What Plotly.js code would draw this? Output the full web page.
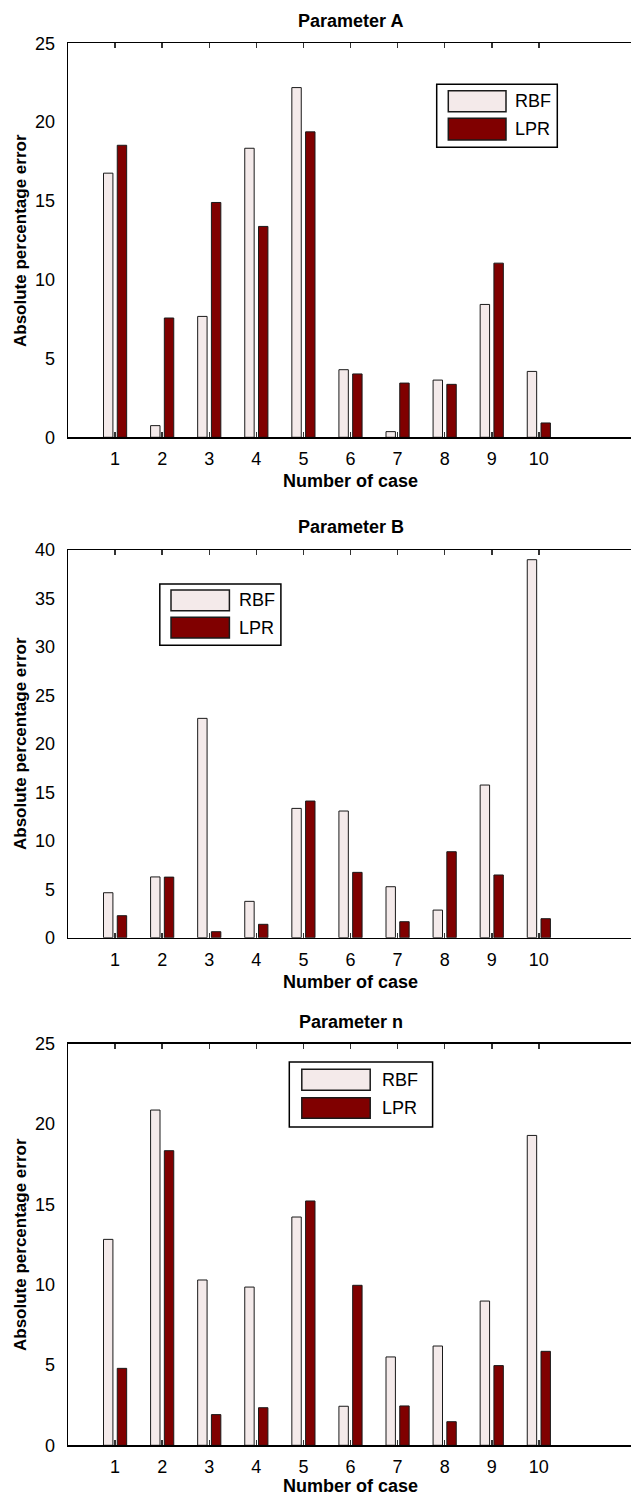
<!DOCTYPE html>
<html>
<head>
<meta charset="utf-8">
<script src="https://cdn.plot.ly/plotly-3.0.1.min.js"></script>
<style>
html, body { margin: 0; padding: 0; background: #ffffff; overflow: hidden; }
#chart { width: 640px; height: 1496px; }
</style>
</head>
<body>
<div id="chart"></div>
<script>
// ---- data ----
const cases = [1, 2, 3, 4, 5, 6, 7, 8, 9, 10];
const caseLabels = ["1", "2", "3", "4", "5", "6", "7", "8", "9", "10"];
const seriesNames = ["RBF", "LPR"];
const panelTitles = ["Parameter A", "Parameter B", "Parameter n"];

const rbfA = [16.76, 0.74, 7.67, 18.34, 22.19, 4.29, 0.36, 3.63, 8.43, 4.18];
const lprA = [18.53, 7.57, 14.90, 13.38, 19.38, 4.02, 3.44, 3.36, 11.05, 0.91];

const rbfB = [4.64, 6.27, 22.63, 3.75, 13.34, 13.07, 5.26, 2.85, 15.75, 39.0];
const lprB = [2.27, 6.25, 0.62, 1.38, 14.10, 6.74, 1.65, 8.87, 6.47, 1.96];

const rbfN = [12.82, 20.87, 10.29, 9.85, 14.21, 2.43, 5.50, 6.18, 8.98, 19.29];
const lprN = [4.79, 18.34, 1.91, 2.34, 15.21, 9.96, 2.45, 1.47, 4.96, 5.85];

const yMax = [25, 40, 25];
const yTicks = [[0, 5, 10, 15, 20, 25], [0, 5, 10, 15, 20, 25, 30, 35, 40], [0, 5, 10, 15, 20, 25]];

// ---- layout geometry (pixels) ----
const W = 640, H = 1496;
const px = v => v / W;
const py = v => 1 - v / H;

const plotLeft = 68, plotRight = 633;
const panels = [
  {top: 43.3, bottom: 437.3, title: 20.7, xtitle: 481, ytitle: 241,
   leg: {x0: 436.7, x1: 557.3, y0: 84.3, y1: 147.3, sx0: 448.3, sx1: 506, r0: 90.7, r1: 111.7, l0: 118.3, l1: 140, tx: 513}},
  {top: 550, bottom: 937.7, title: 526.7, xtitle: 981.7, ytitle: 744,
   leg: {x0: 159.8, x1: 280.9, y0: 584, y1: 645.3, sx0: 171, sx1: 229.4, r0: 590, r1: 610.7, l0: 617.3, l1: 638, tx: 236.6}},
  {top: 1043.7, bottom: 1445.3, title: 1021.7, xtitle: 1486, ytitle: 1245,
   leg: {x0: 289.3, x1: 432.6, y0: 1062, y1: 1127, sx0: 301.8, sx1: 370.2, r0: 1069.3, r1: 1090.3, l0: 1097.7, l1: 1118.3, tx: 380.3}}
];

const rbfColor = "#f4eaea";
const lprColor = "#800000";
const edge = "#1a1a1a";
const fontFam = "Liberation Sans, Arial, Helvetica, sans-serif";

const dataSets = [[rbfA, lprA], [rbfB, lprB], [rbfN, lprN]];

const traces = [];
const layout = {
  width: W, height: H,
  margin: {l: 0, r: 0, t: 0, b: 0},
  paper_bgcolor: "#ffffff",
  plot_bgcolor: "#ffffff",
  showlegend: false,
  barmode: "group",
  bargap: 0.416,
  bargroupgap: 0.315,
  font: {family: fontFam, color: "#000000", size: 18},
  shapes: [],
  annotations: []
};

panels.forEach((p, i) => {
  const n = i + 1;
  const xs = n === 1 ? "x" : "x" + n;
  const ys = n === 1 ? "y" : "y" + n;
  const [rbf, lpr] = dataSets[i];
  traces.push({
    type: "bar", x: cases, y: rbf, name: seriesNames[0], xaxis: xs, yaxis: ys,
    marker: {color: rbfColor, line: {color: edge, width: 1}}, hoverinfo: "x+y+name"
  });
  traces.push({
    type: "bar", x: cases, y: lpr, name: seriesNames[1], xaxis: xs, yaxis: ys,
    marker: {color: lprColor, line: {color: edge, width: 1}}, hoverinfo: "x+y+name"
  });

  layout["xaxis" + (n === 1 ? "" : n)] = {
    domain: [px(plotLeft), px(plotRight)],
    anchor: ys,
    range: [0, 12],
    tickmode: "array", tickvals: cases, ticktext: caseLabels,
    ticks: "inside", ticklen: 5, tickwidth: 1.5, tickcolor: "#333333",
    showline: true, linecolor: "#000000", linewidth: 1.3, mirror: "ticks",
    showgrid: false, zeroline: false,
    ticklabelstandoff: 5,
    tickfont: {family: fontFam, size: 18, color: "#000000"}
  };
  layout["yaxis" + (n === 1 ? "" : n)] = {
    domain: [py(p.bottom), py(p.top)],
    anchor: xs,
    range: [0, yMax[i]],
    tickmode: "array", tickvals: yTicks[i], ticktext: yTicks[i].map(String),
    ticks: "", showline: true, linecolor: "#000000", linewidth: 1.3, mirror: true,
    showgrid: false, zeroline: false,
    ticklabelstandoff: 8,
    tickfont: {family: fontFam, size: 18, color: "#000000"}
  };
  // right-side inward ticks only
  layout["yaxis" + (n + 3)] = {
    overlaying: ys, anchor: xs, side: "right",
    range: [0, yMax[i]],
    tickmode: "array", tickvals: yTicks[i],
    ticks: "inside", ticklen: 6, tickwidth: 1.3, tickcolor: "#333333",
    showticklabels: false, showline: false, showgrid: false, zeroline: false
  };

  // titles
  layout.annotations.push({
    xref: "paper", yref: "paper", x: px((plotLeft + plotRight) / 2), y: py(p.title),
    xanchor: "center", yanchor: "middle", showarrow: false,
    text: "<b>" + panelTitles[i] + "</b>", font: {family: fontFam, size: 18, color: "#000"}
  });
  layout.annotations.push({
    xref: "paper", yref: "paper", x: px((plotLeft + plotRight) / 2), y: py(p.xtitle),
    xanchor: "center", yanchor: "middle", showarrow: false,
    text: "<b>Number of case</b>", font: {family: fontFam, size: 18, color: "#000"}
  });
  layout.annotations.push({
    xref: "paper", yref: "paper", x: px(20), y: py(p.ytitle),
    xanchor: "center", yanchor: "middle", showarrow: false, textangle: -90,
    text: "<b>Absolute percentage error</b>", font: {family: fontFam, size: 17, color: "#000"}
  });

  // legend box
  const L = p.leg;
  layout.shapes.push({type: "rect", xref: "paper", yref: "paper",
    x0: px(L.x0), x1: px(L.x1), y0: py(L.y1), y1: py(L.y0),
    line: {color: "#000", width: 1.5}, fillcolor: "#ffffff"});
  layout.shapes.push({type: "rect", xref: "paper", yref: "paper",
    x0: px(L.sx0), x1: px(L.sx1), y0: py(L.r1), y1: py(L.r0),
    line: {color: edge, width: 1.5}, fillcolor: rbfColor});
  layout.shapes.push({type: "rect", xref: "paper", yref: "paper",
    x0: px(L.sx0), x1: px(L.sx1), y0: py(L.l1), y1: py(L.l0),
    line: {color: edge, width: 1.5}, fillcolor: lprColor});
  layout.annotations.push({
    xref: "paper", yref: "paper", x: px(L.tx), y: py((L.r0 + L.r1) / 2),
    xanchor: "left", yanchor: "middle", showarrow: false,
    text: seriesNames[0], font: {family: fontFam, size: 18, color: "#000"}
  });
  layout.annotations.push({
    xref: "paper", yref: "paper", x: px(L.tx), y: py((L.l0 + L.l1) / 2),
    xanchor: "left", yanchor: "middle", showarrow: false,
    text: seriesNames[1], font: {family: fontFam, size: 18, color: "#000"}
  });
});

Plotly.newPlot("chart", traces, layout, {staticPlot: true, displayModeBar: false});
</script>
</body>
</html>
